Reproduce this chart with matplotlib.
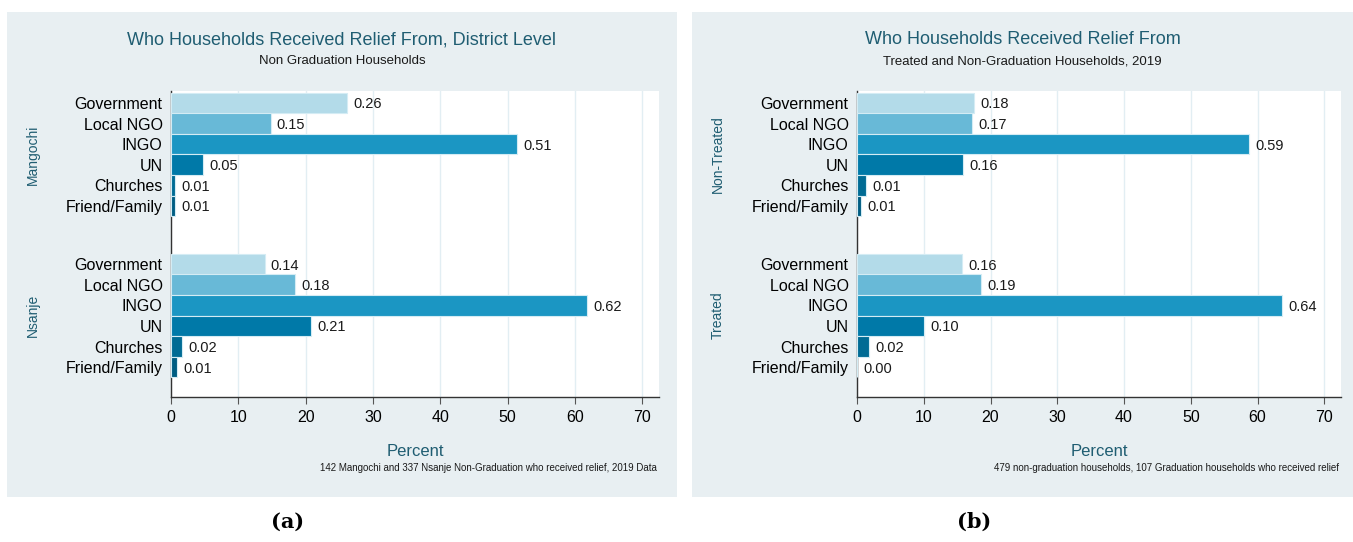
import matplotlib
matplotlib.use("Agg")
import matplotlib.pyplot as plt
import matplotlib.transforms as mtransforms
from matplotlib.patches import Rectangle

plt.rcParams['font.family'] = ['Liberation Sans', 'DejaVu Sans']

categories = ["Government", "Local NGO", "INGO", "UN", "Churches", "Friend/Family"]
bar_colors = ["#b3dbe9", "#68b9d7", "#1b96c3", "#0079a8", "#006b94", "#005d82"]

# Panel (a): district level (percent)
groups_a = ["Mangochi", "Nsanje"]
mangochi = [26.1, 14.8, 51.4, 4.8, 0.6, 0.6]
nsanje = [13.9, 18.4, 61.8, 20.8, 1.7, 0.9]

# Panel (b): treated vs non-treated (percent)
groups_b = ["Non-Treated", "Treated"]
non_treated = [17.6, 17.2, 58.7, 15.9, 1.4, 0.6]
treated = [15.8, 18.6, 63.7, 10.1, 1.8, 0.0]

xticks = [0, 10, 20, 30, 40, 50, 60, 70]

W, H = 1353, 542
fig = plt.figure(figsize=(W / 100, H / 100), dpi=100)
fig.patch.set_facecolor("white")

BG = "#e8eff2"
TEAL = "#1f5d72"


def px_rect(x0, y0, x1, y1):
    return [x0 / W, 1 - y1 / H, (x1 - x0) / W, (y1 - y0) / H]


def panel(bg_box, ax_box, title, subtitle, groups, series, note, tag, tag_x):
    bx0, by0, bx1, by1 = bg_box
    fig.patches.append(Rectangle((bx0 / W, 1 - by1 / H), (bx1 - bx0) / W, (by1 - by0) / H,
                                 transform=fig.transFigure, facecolor=BG, edgecolor="none",
                                 zorder=-10))
    ax = fig.add_axes(px_rect(*ax_box))
    ax.set_zorder(5)
    ax.set_facecolor("white")
    offset = 7.82
    ylabels_pos = []
    ylabels_txt = []
    for gi, vals in enumerate(series):
        base = gi * offset
        pos = [base + i for i in range(len(categories))]
        ax.barh(pos, vals, height=1.0, color=bar_colors, edgecolor="#d4ecf4", linewidth=0.8, zorder=3)
        for p, v in zip(pos, vals):
            ax.annotate(f"{v / 100:.2f}", xy=(v, p), xytext=(4.5, 0), textcoords="offset points",
                        va="center_baseline", ha="left", fontsize=10.5, color="#1a1a1a", zorder=4)
        ylabels_pos += pos
        ylabels_txt += categories
        tr = mtransforms.blended_transform_factory(fig.transFigure, ax.transData)
        fig.text((bg_box[0] + 26) / W, base + 2.5, groups[gi], transform=tr, rotation=90,
                 ha="center", va="center", fontsize=10, color=TEAL)
    ax.set_yticks(ylabels_pos)
    ax.set_yticklabels(ylabels_txt, fontsize=11.5)
    ax.tick_params(axis="y", length=0, pad=6)
    ax.set_ylim(14.27, -0.58)
    ax.set_xlim(0, 72.5)
    ax.set_xticks(xticks)
    ax.set_xticklabels([str(t) for t in xticks], fontsize=11.5)
    ax.tick_params(axis="x", length=5, width=0.8, color="#555555", pad=4)
    ax.grid(axis="x", color="#e2eef3", linewidth=1.0, zorder=0)
    ax.set_axisbelow(True)
    for s in ["top", "right"]:
        ax.spines[s].set_visible(False)
    ax.spines["left"].set_color("#333333")
    ax.spines["bottom"].set_color("#333333")
    ax.spines["left"].set_linewidth(1.0)
    ax.spines["bottom"].set_linewidth(1.0)

    ax_x0, _, ax_x1, _ = ax_box
    cx = (bx0 + bx1) / 2
    fig.text(cx / W, 1 - 40 / H, title, ha="center", va="center", fontsize=13, color=TEAL)
    fig.text(cx / W, 1 - 61 / H, subtitle, ha="center", va="center", fontsize=9.5, color="#1a1a1a")
    fig.text((ax_x0 + ax_x1) / 2 / W, 1 - 451 / H, "Percent", ha="center", va="center",
             fontsize=12, color=TEAL)
    fig.text((ax_x1 - 2) / W, 1 - 468 / H, note, ha="right", va="center", fontsize=7,
             color="#1a1a1a")
    fig.text(tag_x / W, 1 - 522 / H, tag, ha="center", va="center", fontsize=15,
             fontweight="bold", family="DejaVu Serif")
    return ax


panel((7, 12, 677, 497), (171, 91, 659, 397),
      "Who Households Received Relief From, District Level", "Non Graduation Households",
      groups_a, [mangochi, nsanje],
      "142 Mangochi and 337 Nsanje Non-Graduation who received relief, 2019 Data", "(a)", 288)

panel((692, 12, 1353, 497), (857, 91, 1341, 397),
      "Who Households Received Relief From", "Treated and Non-Graduation Households, 2019",
      groups_b, [non_treated, treated],
      "479 non-graduation households, 107 Graduation households who received relief", "(b)", 974)

fig.savefig("out.png", dpi=100, facecolor="white")
